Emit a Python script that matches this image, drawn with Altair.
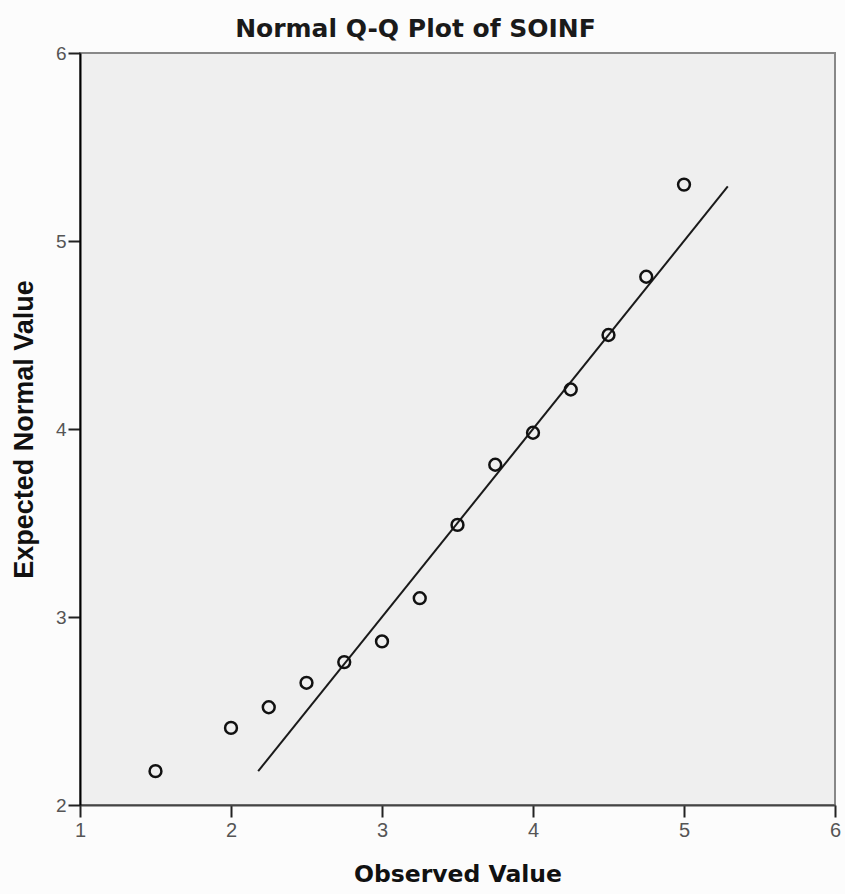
import altair as alt
import pandas as pd

observed = [1.5, 2.0, 2.25, 2.5, 2.75, 3.0, 3.25, 3.5, 3.75, 4.0, 4.25, 4.5, 4.75, 5.0]
expected = [2.18, 2.41, 2.52, 2.65, 2.76, 2.87, 3.10, 3.49, 3.81, 3.98, 4.21, 4.50, 4.81, 5.30]
line_x = [2.18, 5.29]
line_y = [2.18, 5.29]
x_ticks = [1, 2, 3, 4, 5, 6]
y_ticks = [2, 3, 4, 5, 6]

pts = pd.DataFrame({"obs": observed, "exp": expected})
ln = pd.DataFrame({"obs": line_x, "exp": line_y})

FONT = "Liberation Sans"
WIDE = "DejaVu Sans"

xscale = alt.Scale(domain=[1, 6], nice=False, zero=False)
yscale = alt.Scale(domain=[2, 6], nice=False, zero=False)

xaxis = alt.Axis(title="Observed Value", values=x_ticks, format="d", grid=False,
                 labelFlush=False, labelOverlap=False,
                 domainColor="#444444", domainWidth=2, tickColor="#222222", tickWidth=2,
                 tickSize=12, labelColor="#555555", labelFontSize=20, labelFont=FONT,
                 labelPadding=3, titleFont=WIDE, titleFontSize=23.5, titleFontWeight="bold",
                 titleColor="#111111", titlePadding=22)
yaxis = alt.Axis(title="Expected Normal Value", values=y_ticks, format="d", grid=False,
                 labelFlush=False, labelOverlap=False,
                 domainColor="#000000", domainWidth=2, tickColor="#222222", tickWidth=2,
                 tickSize=12, labelColor="#555555", labelFontSize=19, labelFont=FONT,
                 labelPadding=2, titleFont=FONT, titleFontSize=27, titleFontWeight="bold",
                 titleColor="#111111", titlePadding=17)

points = alt.Chart(pts).mark_point(shape="circle", filled=False, size=140,
                                   stroke="#111111", strokeWidth=2.5, opacity=1).encode(
    x=alt.X("obs:Q", scale=xscale, axis=xaxis),
    y=alt.Y("exp:Q", scale=yscale, axis=yaxis),
)

line = alt.Chart(ln).mark_line(color="#1a1a1a", strokeWidth=2).encode(
    x=alt.X("obs:Q", scale=xscale),
    y=alt.Y("exp:Q", scale=yscale),
)

chart = alt.layer(line, points).properties(
    width=755, height=752,
    title=alt.TitleParams("Normal Q-Q Plot of SOINF", font=WIDE, fontSize=25,
                          fontWeight="bold", color="#1a1a1a", anchor="middle", offset=2,
                          dx=-42),
    autosize=alt.AutoSizeParams(type="none"),
    padding={"left": 80, "top": 53, "right": 10, "bottom": 89},
    background="#fcfcfc",
).configure_view(fill="#efefef", stroke="#888888", strokeWidth=2)

chart.save("out.html", embed_options={"renderer": "svg", "actions": False})
